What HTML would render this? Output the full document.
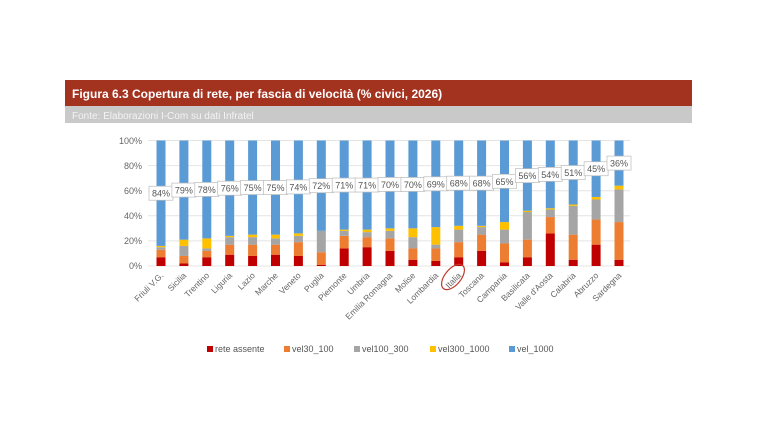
<!DOCTYPE html>
<html><head><meta charset="utf-8"><style>
body{margin:0;width:768px;height:432px;background:#fff;overflow:hidden;font-family:"Liberation Sans",sans-serif}
</style></head><body>
<svg width="768" height="432" xmlns="http://www.w3.org/2000/svg" font-family="Liberation Sans, sans-serif">
<rect x="65" y="80" width="627" height="26" fill="#a3321f"/>
<text x="72" y="98" font-size="12" font-weight="bold" fill="#fff">Figura 6.3 Copertura di rete, per fascia di velocità (% civici, 2026)</text>
<rect x="65" y="106" width="627" height="17" fill="#c9c9c9"/>
<text x="72" y="119" font-size="10" fill="#f4f4f4">Fonte: Elaborazioni I-Com su dati Infratel</text>
<g id="grid" stroke="#e4e4e4" stroke-width="1"></g>
<g font-size="9" fill="#666" text-anchor="end">
<text x="142" y="144">100%</text><text x="142" y="169">80%</text><text x="142" y="194">60%</text><text x="142" y="219">40%</text><text x="142" y="244">20%</text><text x="142" y="269">0%</text>
</g>
<g id="bars"></g>
<g id="xl" font-size="8.5" fill="#666" text-anchor="end"></g>
<ellipse cx="453" cy="277" rx="8" ry="15" transform="rotate(40 453 277)" fill="none" stroke="#c0392b" stroke-width="1.2"/>
<g font-size="9" fill="#555">
<rect x="207" y="346" width="6" height="6" fill="#c00000"/><text x="215" y="352">rete assente</text>
<rect x="284" y="346" width="6" height="6" fill="#ed7d31"/><text x="292" y="352">vel30_100</text>
<rect x="354" y="346" width="6" height="6" fill="#a5a5a5"/><text x="362" y="352">vel100_300</text>
<rect x="430" y="346" width="6" height="6" fill="#ffc000"/><text x="438" y="352">vel300_1000</text>
<rect x="509" y="346" width="6" height="6" fill="#5b9bd5"/><text x="517" y="352">vel_1000</text>
</g>
</svg>
<script>
var d=[["Friuli V.G.",7,13,15,16,84],["Sicilia",2,8,16,21,79],["Trentino",7,12,14,22,78],["Liguria",9,17,23,24,76],["Lazio",8,17,23,25,75],["Marche",9,17,22,25,75],["Veneto",8,19,24,26,74],["Puglia",1,11,28,28,72],["Piemonte",14,24,28,29,71],["Umbria",15,23,27,29,71],["Emilia Romagna",12,22,28,30,70],["Molise",5,14,23,30,70],["Lombardia",4,14,17,31,69],["Italia",7,19,29,32,68],["Toscana",12,25,31,32,68],["Campania",3,18,29,35,65],["Basilicata",7,21,43,44,56],["Valle d'Aosta",26,39,45,46,54],["Calabria",5,25,48,49,51],["Abruzzo",17,37,53,55,45],["Sardegna",5,35,61,64,36]];
var NS="http://www.w3.org/2000/svg";
function el(t,a,p,tx){var e=document.createElementNS(NS,t);for(var k in a)e.setAttribute(k,a[k]);if(tx)e.textContent=tx;document.getElementById(p).appendChild(e);return e;}
var y0=266,s=1.255;
for(var g=0;g<=5;g++)el("line",{x1:148,x2:630,y1:y0-g*20*s,y2:y0-g*20*s},"grid");
var cols=["#c00000","#ed7d31","#a5a5a5","#ffc000","#5b9bd5"];
var n=d.length,step=(619-161)/(n-1);
for(var i=0;i<n;i++){var cx=161+i*step,r=d[i],prev=0,b=[r[1],r[2],r[3],r[4],100];
for(var j=0;j<5;j++){el("rect",{x:cx-4.5,y:y0-b[j]*s,width:9,height:(b[j]-prev)*s,fill:cols[j]},"bars");prev=b[j];}
var my=y0-(r[4]+100)/2*s;
el("rect",{x:cx-12,y:my-7,width:24,height:14,fill:"#fff",stroke:"#bbb","stroke-width":0.7},"bars");
el("text",{x:cx,y:my+3.5,"font-size":9,fill:"#555","text-anchor":"middle"},"bars",r[5]+"%");
el("text",{x:cx+3,y:276,transform:"rotate(-45 "+(cx+3)+" 276)"},"xl",r[0]);}
</script>
</body></html>
